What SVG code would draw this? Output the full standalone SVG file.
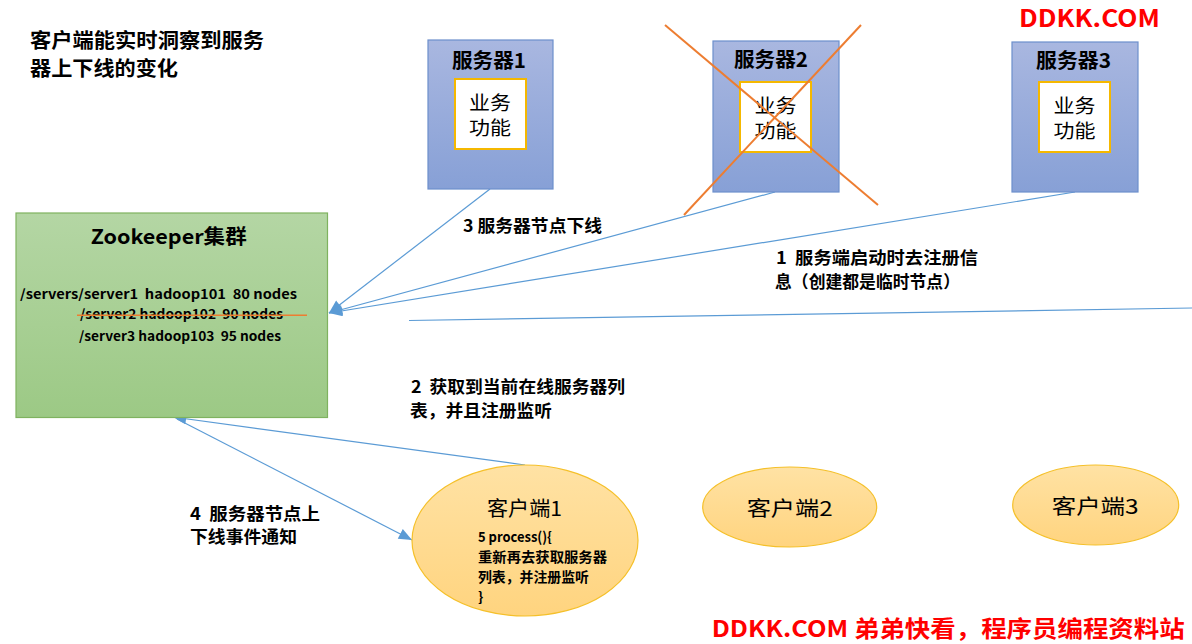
<svg xmlns="http://www.w3.org/2000/svg" width="1192" height="644" viewBox="0 0 1192 644">
<defs>
  <linearGradient id="gSrv" x1="0" y1="0" x2="0" y2="1">
    <stop offset="0" stop-color="#a9b7e0"/>
    <stop offset="1" stop-color="#87a0d6"/>
  </linearGradient>
  <linearGradient id="gZk" x1="0" y1="0" x2="0" y2="1">
    <stop offset="0" stop-color="#b4d6a4"/>
    <stop offset="1" stop-color="#9cc985"/>
  </linearGradient>
  <linearGradient id="gCli" x1="0" y1="0" x2="0" y2="1">
    <stop offset="0" stop-color="#ffe2a4"/>
    <stop offset="1" stop-color="#ffd47f"/>
  </linearGradient>
  <marker id="arr" viewBox="0 0 12 10" refX="12" refY="5" markerWidth="14" markerHeight="11" markerUnits="userSpaceOnUse" orient="auto">
    <path d="M0,0 L12,5 L0,10 Z" fill="#5b9bd5"/>
  </marker>
  <style>
    .srv { fill: url(#gSrv); stroke: #6d8fcc; stroke-width: 1.2; }
    .inner { fill: #ffffff; stroke: #f5b800; stroke-width: 2; }
    .cli { fill: url(#gCli); stroke: #f5c02a; stroke-width: 1.2; }
    .conn { stroke: #5b9bd5; stroke-width: 1.2; fill: none; }
    .cross { stroke: #ed7d31; stroke-width: 2; }
    .cjk { font-family: "Noto Sans CJK SC", "Liberation Sans", sans-serif; fill: #000; white-space: pre; }
    .b { font-weight: bold; }
    .ttl { font-size: 20px; }
    .fn { font-size: 19px; }
    .lbl { font-size: 17px; }
    .zk { font-size: 13px; }
    .sm { font-size: 14px; }
    .red { fill: #ff0000; font-size: 24px; font-weight: bold; }
    .redb { fill: #ff0000; font-size: 23px; font-weight: bold; }
  </style>
</defs>

<g id="title">
  <text class="cjk b ttl" x="30" y="47.6" textLength="234" lengthAdjust="spacingAndGlyphs">客户端能实时洞察到服务</text>
  <text class="cjk b ttl" x="30" y="75.6" textLength="148" lengthAdjust="spacingAndGlyphs">器上下线的变化</text>
</g>

<g id="watermark-top">
  <text class="cjk red" x="1019" y="27" textLength="141" lengthAdjust="spacingAndGlyphs">DDKK.COM</text>
</g>

<g id="connectors">
  <line class="conn" x1="490" y1="189" x2="329" y2="313" marker-end="url(#arr)"/>
  <line class="conn" x1="775" y1="192" x2="329" y2="313" marker-end="url(#arr)"/>
  <line class="conn" x1="1075" y1="192" x2="329" y2="313" marker-end="url(#arr)"/>
  <line class="conn" x1="409" y1="320.5" x2="1192" y2="308"/>
  <line class="conn" x1="525" y1="465" x2="173" y2="417" marker-end="url(#arr)"/>
  <line class="conn" x1="177" y1="419" x2="412" y2="540" marker-end="url(#arr)"/>
</g>

<g id="server1">
  <rect class="srv" x="428" y="40" width="125" height="149"/>
  <text class="cjk b ttl" x="452" y="67.6" textLength="74" lengthAdjust="spacingAndGlyphs">服务器1</text>
  <rect class="inner" x="455" y="79" width="71" height="70"/>
  <text class="cjk fn" x="469" y="110" textLength="42" lengthAdjust="spacingAndGlyphs">业务</text>
  <text class="cjk fn" x="469" y="134.5" textLength="42" lengthAdjust="spacingAndGlyphs">功能</text>
</g>

<g id="server2">
  <rect class="srv" x="713" y="41" width="126" height="151"/>
  <text class="cjk b ttl" x="734" y="67" textLength="74" lengthAdjust="spacingAndGlyphs">服务器2</text>
  <rect class="inner" x="740" y="82" width="71" height="70"/>
  <text class="cjk fn" x="754.5" y="113" textLength="42" lengthAdjust="spacingAndGlyphs">业务</text>
  <text class="cjk fn" x="754.5" y="137.5" textLength="42" lengthAdjust="spacingAndGlyphs">功能</text>
  <line class="cross" x1="665" y1="25" x2="878" y2="205"/>
  <line class="cross" x1="861" y1="25" x2="684" y2="215"/>
</g>

<g id="server3">
  <rect class="srv" x="1012" y="42" width="126" height="150"/>
  <text class="cjk b ttl" x="1036" y="67.6" textLength="75" lengthAdjust="spacingAndGlyphs">服务器3</text>
  <rect class="inner" x="1039" y="82" width="71" height="70"/>
  <text class="cjk fn" x="1053.5" y="113" textLength="42" lengthAdjust="spacingAndGlyphs">业务</text>
  <text class="cjk fn" x="1053.5" y="137.5" textLength="42" lengthAdjust="spacingAndGlyphs">功能</text>
</g>

<g id="zookeeper">
  <rect x="16" y="213" width="311.5" height="204.5" fill="url(#gZk)" stroke="#7fb25f" stroke-width="1.2"/>
  <text class="cjk b ttl" x="90.7" y="244" textLength="156" lengthAdjust="spacingAndGlyphs">Zookeeper集群</text>
  <text class="cjk b zk" x="20" y="298.5" textLength="277" lengthAdjust="spacingAndGlyphs" xml:space="preserve">/servers/server1  hadoop101  80 nodes</text>
  <text class="cjk b zk" x="80" y="318.5" textLength="203" lengthAdjust="spacingAndGlyphs" xml:space="preserve">/server2 hadoop102  90 nodes</text>
  <line x1="77" y1="315.3" x2="307" y2="315.3" stroke="#ed7d31" stroke-width="1.5"/>
  <text class="cjk b zk" x="79" y="341" textLength="202" lengthAdjust="spacingAndGlyphs" xml:space="preserve">/server3 hadoop103  95 nodes</text>
</g>

<g id="labels">
  <text class="cjk b lbl" x="463" y="231.5" textLength="139" lengthAdjust="spacingAndGlyphs">3 服务器节点下线</text>
  <text class="cjk b lbl" x="776" y="263.5" textLength="202" lengthAdjust="spacingAndGlyphs" xml:space="preserve">1  服务端启动时去注册信</text>
  <text class="cjk b lbl" x="775" y="288" textLength="185" lengthAdjust="spacingAndGlyphs">息（创建都是临时节点）</text>
  <text class="cjk b lbl" x="411" y="393" textLength="214" lengthAdjust="spacingAndGlyphs" xml:space="preserve">2  获取到当前在线服务器列</text>
  <text class="cjk b lbl" x="410" y="417" textLength="142" lengthAdjust="spacingAndGlyphs">表，并且注册监听</text>
  <text class="cjk b lbl" x="190" y="519.5" textLength="130" lengthAdjust="spacingAndGlyphs" xml:space="preserve">4  服务器节点上</text>
  <text class="cjk b lbl" x="190" y="543" textLength="107" lengthAdjust="spacingAndGlyphs">下线事件通知</text>
</g>

<g id="client1">
  <ellipse class="cli" cx="525" cy="540.5" rx="113" ry="75.5"/>
  <text class="cjk ttl" x="487" y="515.6" textLength="75" lengthAdjust="spacingAndGlyphs">客户端1</text>
  <text class="cjk b sm" x="478" y="541.5" textLength="74" lengthAdjust="spacingAndGlyphs">5 process(){</text>
  <text class="cjk b sm" x="478" y="562.3" textLength="129" lengthAdjust="spacingAndGlyphs">重新再去获取服务器</text>
  <text class="cjk b sm" x="478" y="582" textLength="111" lengthAdjust="spacingAndGlyphs">列表，并注册监听</text>
  <text class="cjk b sm" x="478" y="601.5">}</text>
</g>

<g id="client2">
  <ellipse class="cli" cx="789.7" cy="507" rx="87" ry="40"/>
  <text class="cjk ttl" x="746.7" y="515.6" textLength="86" lengthAdjust="spacingAndGlyphs">客户端2</text>
</g>

<g id="client3">
  <ellipse class="cli" cx="1095.7" cy="505" rx="83" ry="40"/>
  <text class="cjk ttl" x="1051.7" y="514.3" textLength="87" lengthAdjust="spacingAndGlyphs">客户端3</text>
</g>

<g id="watermark-bottom">
  <text class="cjk redb" x="711.7" y="637" textLength="473" lengthAdjust="spacingAndGlyphs">DDKK.COM 弟弟快看，程序员编程资料站</text>
</g>
</svg>
